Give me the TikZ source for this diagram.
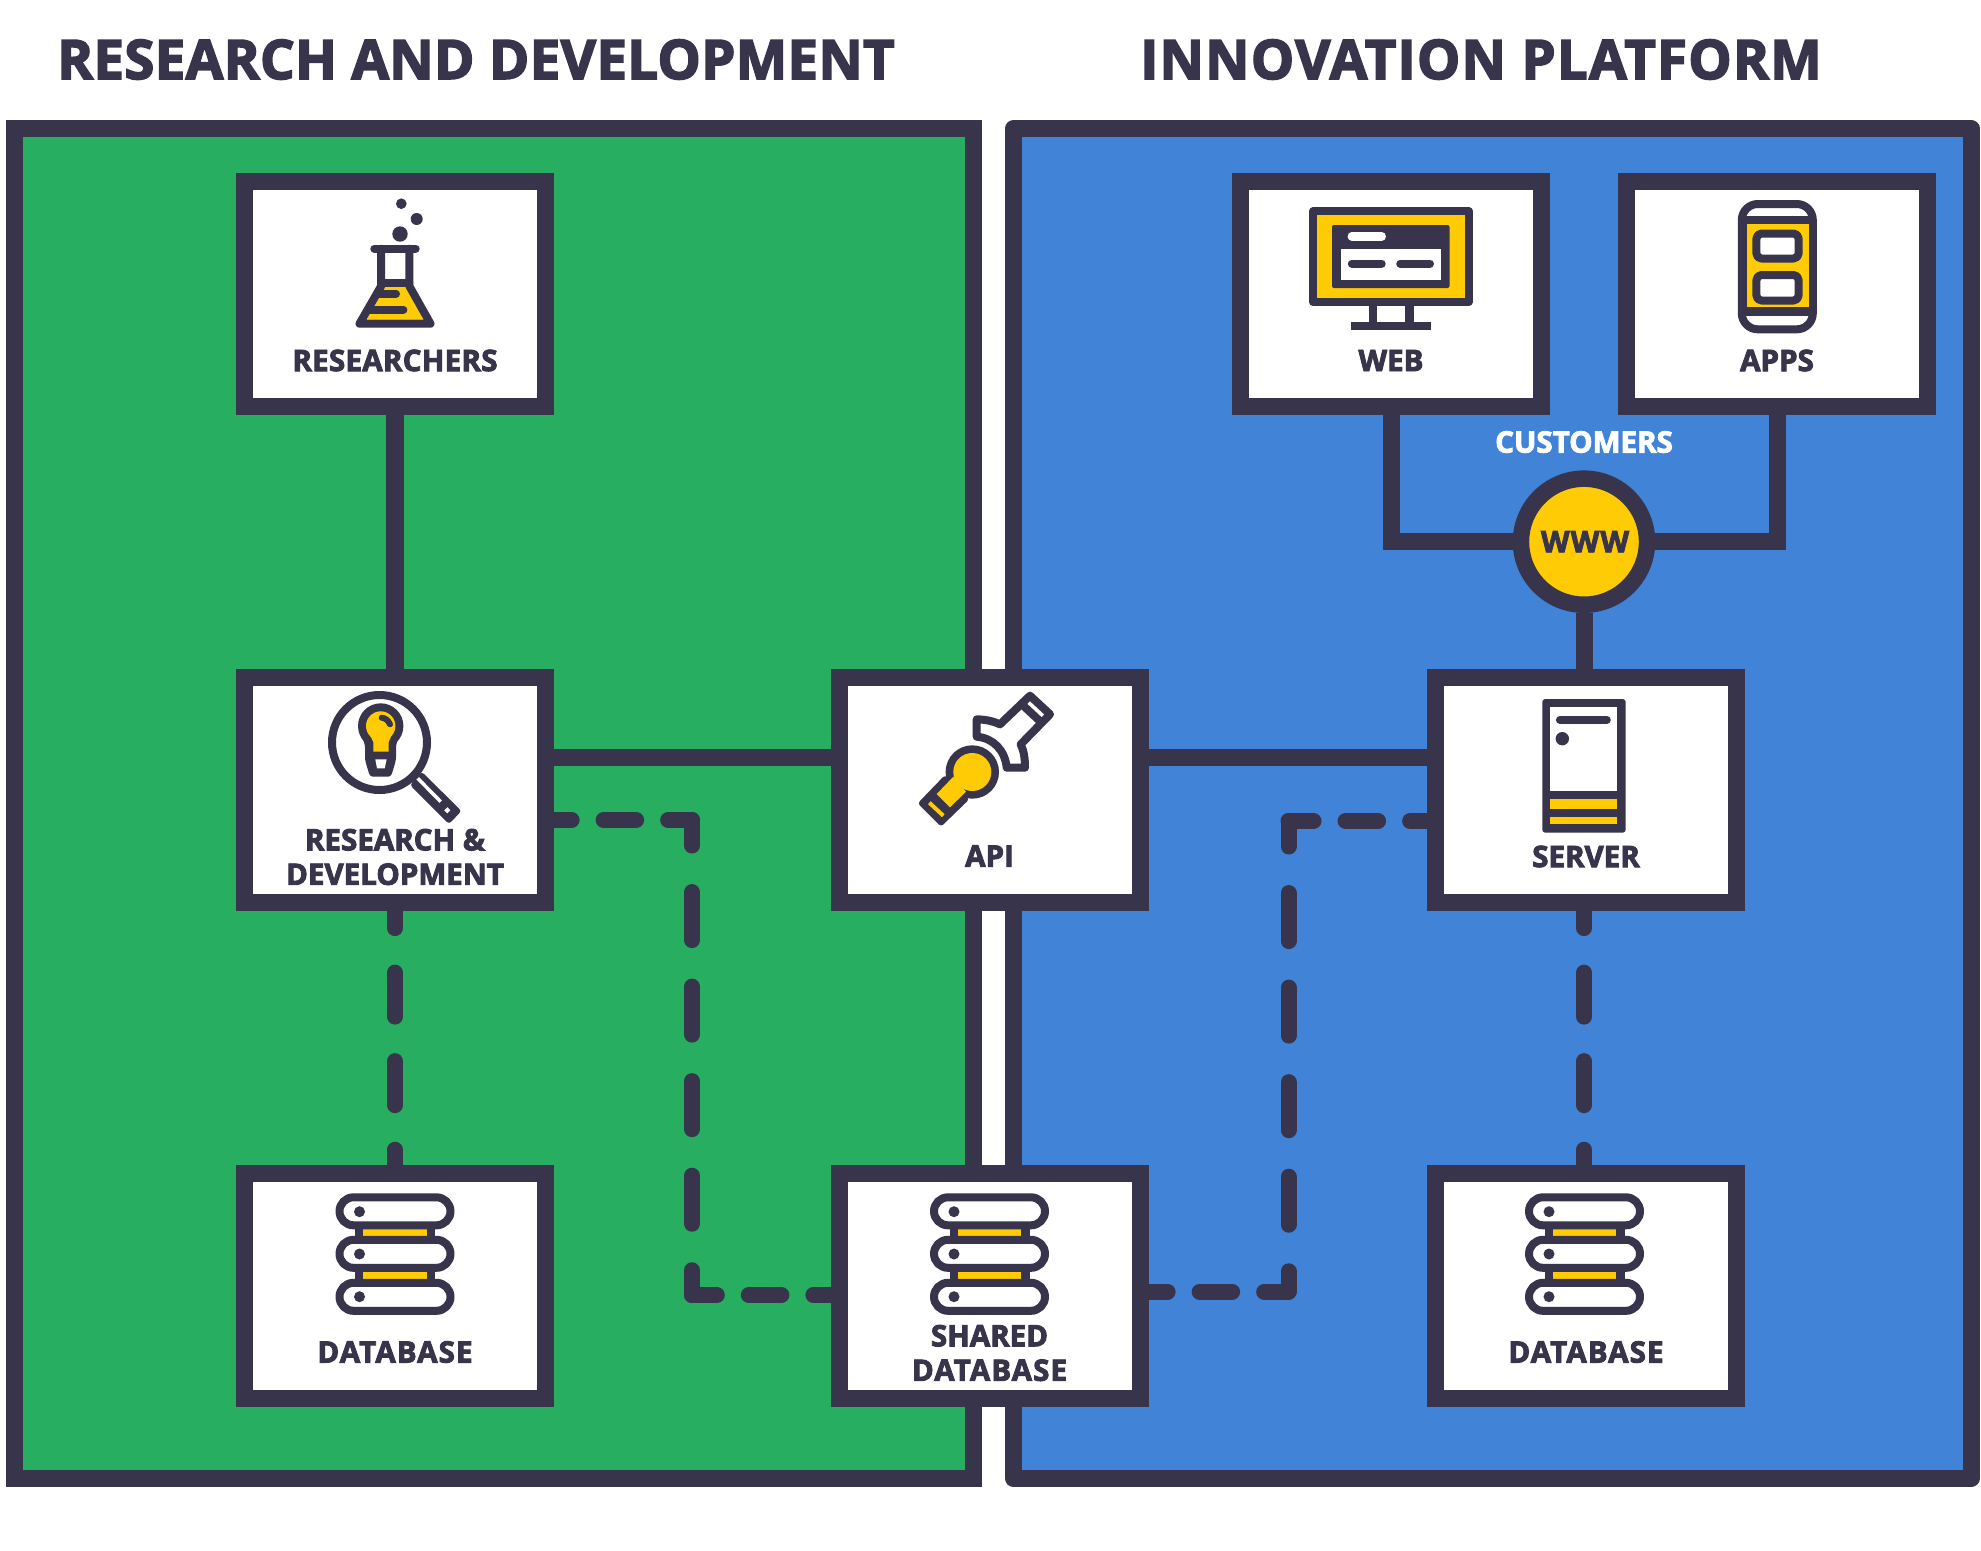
\documentclass[tikz,border=0pt]{standalone}
\usepackage{fontspec}
\setmainfont{Open Sans}[BoldFeatures={FakeBold=3}]
\newcommand{\spacedtext}[2]{{\addfontfeature{LetterSpace=#1}#2}}
\definecolor{inkdark}{HTML}{37344B}
\definecolor{panelgreen}{HTML}{27AE60}
\definecolor{panelblue}{HTML}{4183D7}
\definecolor{iconyellow}{HTML}{FFCB05}
\tikzset{
	titletext/.style={font=\fontsize{15.5}{18}\selectfont\bfseries,text=inkdark,inner sep=0pt},
	boxtext/.style={font=\fontsize{8.4}{9.8}\selectfont\bfseries,text=inkdark,align=center,inner sep=0pt},
	boxnode/.style={draw=inkdark,fill=white,line width=0.17cm,minimum width=3.01cm,minimum height=2.24cm,inner sep=0pt},
	mainline/.style={draw=inkdark,line width=0.17cm},
	linkh/.style={draw=inkdark,line width=0.16cm,line cap=round,dash pattern=on 0.325cm off 0.32cm},
	linkv/.style={draw=inkdark,line width=0.16cm,line cap=round,dash pattern=on 0.48cm off 0.465cm},
	linkd/.style={draw=inkdark,line width=0.16cm,line cap=round,dash pattern=on 0.44cm off 0.445cm},
	iconline/.style={draw=inkdark,line width=0.08cm,line join=round,line cap=round},
	dbicon/.pic={
		\fill[inkdark] (-40,-60) rectangle (40,-45);
		\fill[inkdark] (-40,-18) rectangle (40,-3);
		\fill[iconyellow] (-31.7,-56.2) rectangle (31.7,-49.5);
		\fill[iconyellow] (-31.7,-13.7) rectangle (31.7,-6.8);
		\draw[iconline,fill=white,rounded corners=0.14cm] (-55.5,-88.2) rectangle (55.5,-60.2);
		\draw[iconline,fill=white,rounded corners=0.14cm] (-55.5,-45.7) rectangle (55.5,-17.7);
		\draw[iconline,fill=white,rounded corners=0.14cm] (-55.5,-2.7) rectangle (55.5,25.3);
		\fill[inkdark] (-35.5,-73.8) circle (5.5);
		\fill[inkdark] (-35.5,-31.5) circle (5.5);
		\fill[inkdark] (-35.5,11.2) circle (5.5);
	}
}
\begin{document}
\begin{tikzpicture}[x=0.01cm,y=-0.01cm]
	\useasboundingbox (0,0) rectangle (1981,1551);

	% panels
	\draw[draw=inkdark,fill=panelgreen,line width=0.17cm] (14.5,128.5) rectangle (973,1478.5);
	\draw[draw=inkdark,fill=panelblue,line width=0.17cm,line join=round] (1013.5,128.5) rectangle (1971,1478.5);
	\node[titletext] (titleleft) at (476,59.5) {\spacedtext{0.7}{RESEARCH AND DEVELOPMENT}};
	\node[titletext] (titleright) at (1481,59.5) {\spacedtext{2.4}{INNOVATION PLATFORM}};

	% boxes
	\node[boxnode] (researchers) at (395,294) {};
	\node[boxnode] (rd) at (395,790) {};
	\node[boxnode] (dbleft) at (395,1286) {};
	\node[boxnode] (api) at (990,790) {};
	\node[boxnode] (shareddb) at (990,1286) {};
	\node[boxnode] (web) at (1391,294) {};
	\node[boxnode] (apps) at (1777,294) {};
	\node[boxnode] (server) at (1586,790) {};
	\node[boxnode] (dbright) at (1586,1286) {};
	\node[circle,draw=inkdark,fill=iconyellow,line width=0.165cm,minimum size=1.26cm,inner sep=0pt] (www) at (1584,541.7) {};

	\node[boxtext] (researcherstext) at (395,360.5) {\spacedtext{0.9}{RESEARCHERS}};
	\node[boxtext] (rdtext) at (395,857) {RESEARCH \&\\DEVELOPMENT};
	\node[boxtext] (dblefttext) at (395,1352) {\spacedtext{3.7}{DATABASE}};
	\node[boxtext] (apitext) at (989.5,856) {API};
	\node[boxtext] (shareddbtext) at (989.5,1353) {SHARED\\\spacedtext{3.7}{DATABASE}};
	\node[boxtext] (webtext) at (1391,360.5) {WEB};
	\node[boxtext] (appstext) at (1777,360.5) {APPS};
	\node[boxtext] (servertext) at (1586,856.5) {SERVER};
	\node[boxtext] (dbrighttext) at (1586,1352) {\spacedtext{3.7}{DATABASE}};
	\node[boxtext,text=white] (customerstext) at (1584,442) {CUSTOMERS};
	\node[boxtext] (wwwtext) at (1585,541.7) {\spacedtext{4}{WWW}};

	% solid connectors
	\coordinate (busy) at (0,757);
	\draw[mainline] (researchers.south) -- (rd.north);
	\draw[mainline] (rd.east |- busy) -- (api.west |- busy);
	\draw[mainline] (api.east |- busy) -- (server.west |- busy);
	\draw[mainline] (web.south) |- (www.west);
	\draw[mainline] (apps.south) |- (www.east);
	\draw[mainline] (www.south) -- (www.south |- server.north);

	% dashed connectors
	\coordinate (cornerlt) at (692,820);
	\coordinate (cornerlb) at (692,1295);
	\coordinate (cornerrt) at (1288.5,821);
	\coordinate (cornerrb) at (1288.5,1291.7);
	\draw[linkh,dash phase=0.15cm] (rd.east |- cornerlt) -- (cornerlt);
	\draw[linkv,dash phase=0.225cm] (cornerlt) -- (cornerlb);
	\draw[linkh,dash phase=0.077cm] (cornerlb) -- (shareddb.west |- cornerlb);
	\draw[linkh,dash phase=0.157cm] (server.west |- cornerrt) -- (cornerrt);
	\draw[linkv,dash phase=0.225cm] (cornerrt) -- (cornerrb);
	\draw[linkh,dash phase=0.14cm] (shareddb.east |- cornerrb) -- (cornerrb);
	\draw[linkd,dash phase=0.265cm] (rd.south) -- (dbleft.north);
	\draw[linkd,dash phase=0.265cm] (www.south |- server.south) -- (www.south |- dbright.north);

	% flask
	\fill[inkdark] (401.3,203.7) circle (5.3);
	\fill[inkdark] (416.7,219) circle (6);
	\fill[inkdark] (400,234) circle (7.7);
	\fill[iconyellow] (382.3,286.7) -- (406.7,286.7) -- (423.3,319.7) -- (367,319.7) -- cycle;
	\draw[iconline] (381.2,248.7) -- (381.2,286) -- (359.5,323.7) -- (430.5,323.7) -- (409.3,286) -- (409.3,248.7);
	\draw[iconline] (374.3,248.7) -- (415.7,248.7);
	\draw[iconline] (381.2,282.5) -- (409.3,282.5);
	\draw[iconline] (377,293.7) -- (396,293.7);
	\draw[iconline] (368.5,309.7) -- (403.4,309.7);

	% monitor
	\fill[iconyellow] (1313,211.3) rectangle (1468.6,302);
	\draw[iconline] (1313,211.3) rectangle (1468.6,302);
	\fill[inkdark,rounded corners=0.02cm] (1332,225) rectangle (1449.5,288);
	\fill[white] (1341,248.7) rectangle (1441.2,280);
	\draw[line width=0.085cm,line cap=round,white] (1351.8,236.4) -- (1381.7,236.4);
	\draw[iconline] (1351.8,263.5) -- (1381.7,263.5);
	\draw[iconline] (1400.2,263.5) -- (1430,263.5);
	\fill[inkdark] (1368.7,306) rectangle (1377,322);
	\fill[inkdark] (1405.4,306) rectangle (1413.6,322);
	\fill[inkdark] (1351.2,321.7) rectangle (1431,330);

	% phone
	\draw[iconline,fill=white,rounded corners=0.16cm] (1741.8,204) rectangle (1812.8,329.3);
	\fill[inkdark] (1741.8,216) rectangle (1812.8,315.7);
	\fill[iconyellow] (1746.5,224) rectangle (1808.5,307.3);
	\draw[iconline,fill=white,rounded corners=0.05cm] (1756.4,233.5) rectangle (1798.6,258.5);
	\draw[iconline,fill=white,rounded corners=0.05cm] (1756.4,275) rectangle (1798.6,300.5);

	% magnifier and bulb
	\draw[draw=inkdark,line width=0.08cm] (379.5,742.5) circle (47.5);
	\fill[inkdark] (380.7,726) circle (22.7);
	\fill[inkdark,rounded corners=0.03cm] (362,736) -- (365,745) -- (365,760) -- (370,776.7) -- (391,776.7) -- (396,760) -- (396,745) -- (399,736) -- cycle;
	\fill[iconyellow] (380.7,726) circle (14.7);
	\fill[iconyellow] (369,733) -- (373.3,742) -- (373.3,751.7) -- (388.7,751.7) -- (388.7,742) -- (392.5,733) -- cycle;
	\fill[white] (375.3,759.3) -- (386.7,759.3) -- (384.7,768.3) -- (377,768.3) -- cycle;
	\draw[draw=inkdark,line width=0.06cm,line cap=round] (381.7,717.7) .. controls (385,718) and (388,720) .. (390,724.3);
	\fill[inkdark,rounded corners=0.03cm] (421.7,771.7) -- (461.5,811) -- (449,824) -- (410,785) -- cycle;
	\draw[line width=0.035cm,white] (417.7,778.3) -- (440.7,801.7);
	\draw[line width=0.045cm,white] (445.8,808.8) -- (448.8,811.8);

	% wrench key
	\fill[inkdark,rounded corners=0.03cm] (945,775) -- (917.7,803.3) -- (941,826.7) -- (969.3,799.3) -- cycle;
	\fill[inkdark] (972.3,772) circle (26.7);
	\fill[iconyellow] (972.3,772) circle (19);
	\fill[iconyellow] (953.3,776.7) -- (936.7,794) -- (950,807.3) -- (966,791.7) -- cycle;
	\draw[line width=0.04cm,iconyellow] (929.3,802.7) -- (943.3,815.7);
	\draw[iconline,fill=white] (976.7,719.3) .. controls (985,719.5) and (993,721) .. (1000,724.3) -- (1030,695.7) -- (1050,714.3) -- (1020.7,744.3) .. controls (1024,751) and (1025,759) .. (1025,767.7) -- (1006.7,767.7) .. controls (1005,750) and (993,738) .. (976.7,736.7) -- cycle;
	\draw[iconline] (1021.5,704) -- (1041.5,722.6);

	% server icon
	\fill[inkdark,rounded corners=0.03cm] (1542.3,699) rectangle (1625.7,832.7);
	\fill[white] (1550.3,707.3) rectangle (1617.3,791.3);
	\fill[iconyellow] (1550.3,799.3) rectangle (1617.3,809);
	\fill[iconyellow] (1550.3,816.7) rectangle (1617.3,824.3);
	\draw[iconline] (1559.9,719.9) -- (1606.8,719.9);
	\fill[inkdark] (1562.3,738.7) circle (6.7);

	% database icons
	\pic at (395,1285.5) {dbicon};
	\pic at (989.5,1285.5) {dbicon};
	\pic at (1584.5,1285.5) {dbicon};
\end{tikzpicture}
\end{document}
